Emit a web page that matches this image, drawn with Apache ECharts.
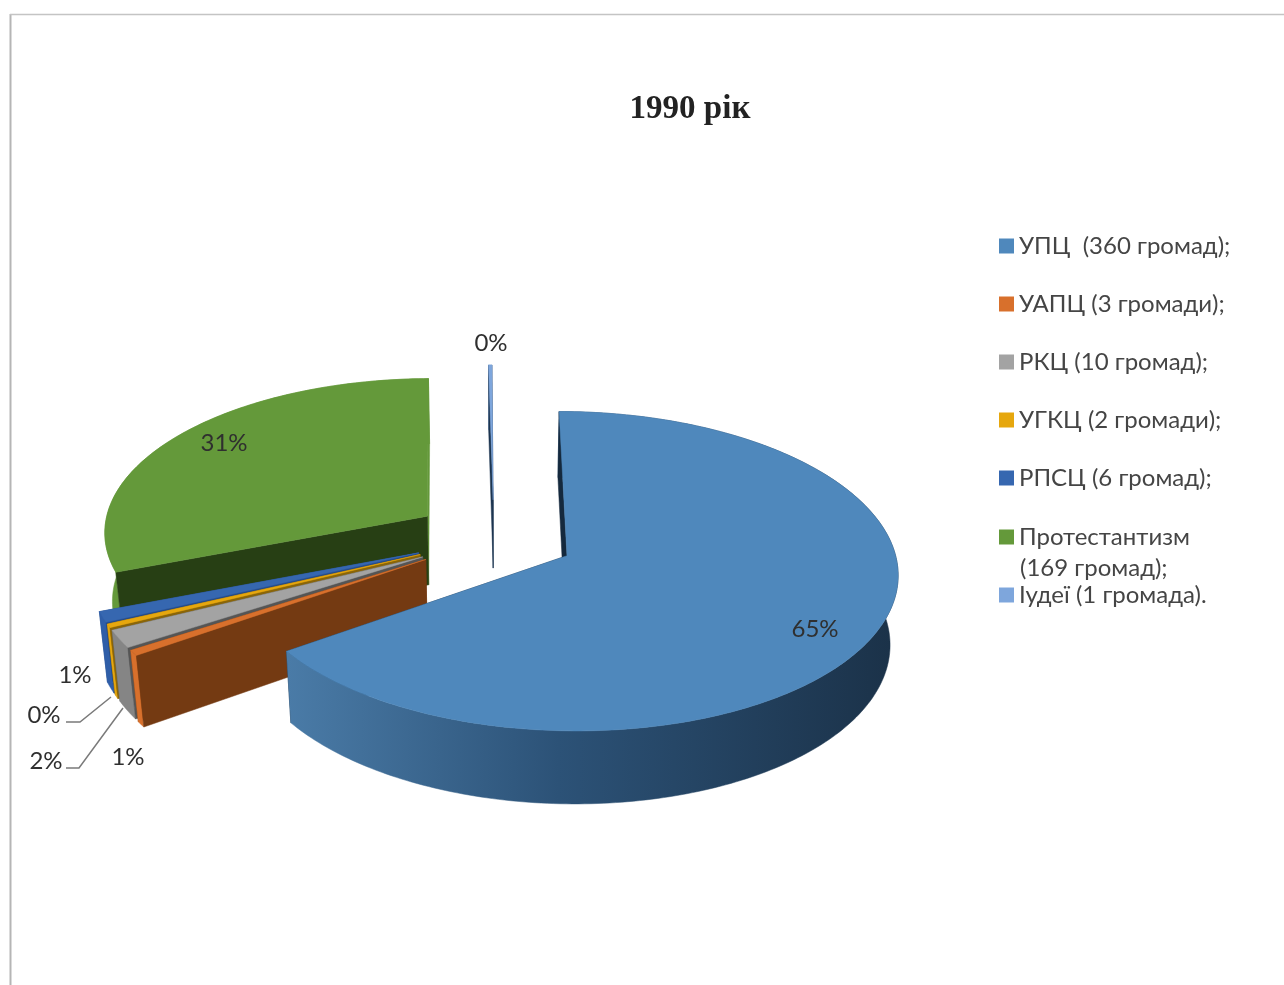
<!DOCTYPE html>
<html>
<head>
<meta charset="utf-8">
<style>
  html, body { margin: 0; padding: 0; background: #fff; }
  #chart { width: 1284px; height: 985px; }
</style>
<script src="https://cdn.jsdelivr.net/npm/echarts@6/dist/echarts.min.js"></script>
</head>
<body>
<div id="chart"></div>
<script>
// data
const categories = ['УПЦ  (360 громад);', 'УАПЦ (3 громади);', 'РКЦ (10 громад);', 'УГКЦ (2 громади);', 'РПСЦ (6 громад);', 'Протестантизм (169 громад);', 'Іудеї (1 громада).']
const communities = [360, 3, 10, 2, 6, 169, 1]
const total = communities.reduce((a, b) => a + b, 0)

// one set of colours per slice: top face, outer rim, cut walls
const topColors = ['#4f88bc', '#d8702c', '#a3a3a3', '#e6a70e', '#3667b0', '#64993a', '#7ea6dc']
const rimColors = ['#2c5277', '#d8702c', '#858585', '#e6a70e', '#2f5ea8', '#64993a', '#7ea6dc']
const wallColors = ['#15293d', '#743a12', '#555555', '#8a6508', '#254a87', '#273f14', '#1c3550']
const endWallColors = ['#15293d', '#743a12', '#555555', '#8a6508', '#254a87', '#64993a', '#1c3550']
const drawOrder = [7, 6, 5, 4, 3, 1, 2] // far slices are painted first

// percent label centres and leader lines, in page pixels
const labelSpots = [[815, 629], [128, 757], [46, 761], [44, 715], [75, 675], [224, 443], [491, 343]]
const leaders = { 2: [[66, 768], [79, 768], [123, 708]], 3: [[66, 722], [80, 722], [111, 697]] }

// pie projection
const cx = 494, cy = 537.6, radius = 325, flat = 154.7
const persp = 0.096, depthPersp = 0.02, depth = 70.5, skew = 0.01, explode = 0.25

function project(u, v, z) {
  const s = 1 / (1 - persp * v + depthPersp * z)
  const y = (flat * v + depth * z) * s
  return [cx + radius * u * s + skew * (flat * v * s), cy + y]
}

function sliceAngles(index) {
  let before = 0
  for (let i = 0; i < index; i++) before += communities[i]
  return [before / total * 360, (before + communities[index]) / total * 360]
}

function renderSlice(index) {
  const [a0, a1] = sliceAngles(index)
  const mid = (a0 + a1) / 2 * Math.PI / 180
  const ou = explode * Math.sin(mid)
  const ov = -explode * Math.cos(mid)
  const rim = (deg, z) => {
    const t = deg * Math.PI / 180
    return project(ou + Math.sin(t), ov - Math.cos(t), z)
  }
  const apexTop = project(ou, ov, 0)
  const apexBottom = project(ou, ov, 1)

  const arc = (z) => {
    const pts = []
    const steps = Math.max(2, Math.ceil(a1 - a0))
    for (let i = 0; i <= steps; i++) pts.push(rim(a0 + (a1 - a0) * i / steps, z))
    return pts
  }
  const topArc = arc(0)
  const bottomArc = arc(1)

  let rimFill = rimColors[index]
  if (index === 0) {
    // the big slice darkens from left to right
    rimFill = new echarts.graphic.LinearGradient(288, 0, 890, 0, [
      { offset: 0, color: '#4a7ba7' },
      { offset: 0.45, color: '#2c5277' },
      { offset: 1, color: '#1b3249' }
    ], true)
  }

  const poly = (points, fill) => ({
    type: 'polygon',
    shape: { points: points },
    style: { fill: fill, stroke: fill, lineWidth: 0.5 }
  })

  const children = [
    poly([apexTop, rim(a1, 0), rim(a1, 1), apexBottom], endWallColors[index]),
    poly(topArc.concat(bottomArc.slice().reverse()), rimFill),
    poly([apexTop, rim(a0, 0), rim(a0, 1), apexBottom], wallColors[index]),
    poly([apexTop].concat(topArc), topColors[index])
  ]

  if (leaders[index]) {
    children.push({
      type: 'polyline',
      shape: { points: leaders[index] },
      style: { fill: 'none', stroke: '#7a7a7a', lineWidth: 1.5 }
    })
  }
  children.push({
    type: 'text',
    x: labelSpots[index][0],
    y: labelSpots[index][1],
    z2: 10,
    style: {
      text: Math.round(communities[index] / total * 100) + '%',
      font: '24px Lato',
      fill: '#2f2f2f',
      align: 'center',
      verticalAlign: 'middle'
    }
  })
  return { type: 'group', children: children }
}

const legendText = { fontFamily: 'Lato', fontSize: 24, color: '#454545' }
const chart = echarts.init(document.getElementById('chart'))

chart.setOption({
  animation: false,
  backgroundColor: '#fff',
  title: {
    text: '1990 рік',
    left: 685,
    top: 88,
    textAlign: 'center',
    textStyle: { fontFamily: 'Liberation Serif', fontWeight: 'bold', fontSize: 33, color: '#222' }
  },
  legend: [
    {
      data: categories.slice(0, 5),
      orient: 'vertical',
      left: 994,
      top: 229,
      itemGap: 34,
      itemWidth: 15,
      itemHeight: 15,
      icon: 'rect',
      selectedMode: false,
      textStyle: legendText
    },
    {
      // wrapped entry: swatch stays on the first line
      data: [categories[5]],
      left: 994,
      top: 520,
      itemWidth: 15,
      itemHeight: 15,
      icon: 'rect',
      selectedMode: false,
      formatter: (name) => name.split(' ')[0],
      textStyle: legendText
    },
    {
      data: [categories[6]],
      left: 994,
      top: 578,
      itemWidth: 15,
      itemHeight: 15,
      icon: 'rect',
      selectedMode: false,
      textStyle: legendText
    }
  ],
  graphic: [
    { type: 'line', shape: { x1: 10.5, y1: 14, x2: 10.5, y2: 985 }, style: { stroke: '#b5b5b5', lineWidth: 2 } },
    { type: 'line', shape: { x1: 10, y1: 14.5, x2: 1284, y2: 14.5 }, style: { stroke: '#c4c4c4', lineWidth: 1.5 } },
    {
      type: 'text',
      x: 1020,
      y: 568,
      style: {
        text: categories[5].split(' ').slice(1).join(' '),
        font: '24px Lato',
        fill: '#454545',
        verticalAlign: 'middle'
      }
    }
  ],
  series: categories.map((name, i) => ({
    type: 'custom',
    name: name,
    coordinateSystem: 'none',
    z: drawOrder[i],
    itemStyle: { color: topColors[i] },
    renderItem: () => renderSlice(i),
    data: [[communities[i]]]
  }))
})
</script>
</body>
</html>
